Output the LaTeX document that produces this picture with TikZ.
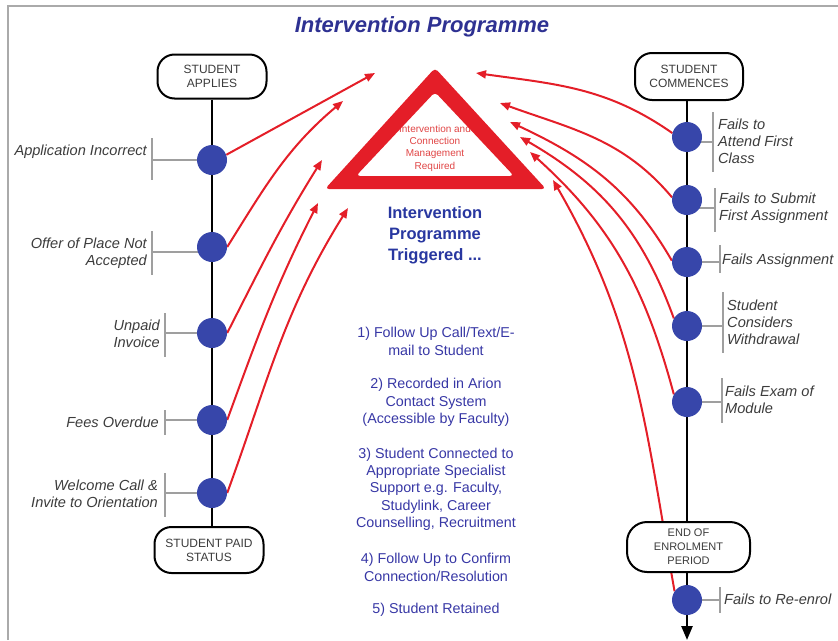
\documentclass[tikz,border=0pt]{standalone}
\usepackage{fontspec}
\setmainfont{Liberation Sans}
\usetikzlibrary{arrows.meta}
\definecolor{titleblue}{RGB}{46,49,146}
\definecolor{trigblue}{RGB}{40,55,160}
\definecolor{listblue}{RGB}{55,55,165}
\definecolor{dotblue}{RGB}{55,70,170}
\definecolor{warnred}{RGB}{228,30,40}
\definecolor{softred}{RGB}{225,70,70}
\definecolor{labelgray}{RGB}{60,60,60}
\definecolor{framegray}{RGB}{170,170,170}
\pgfdeclarelayer{bg}
\pgfsetlayers{bg,main}
\begin{document}
\begin{tikzpicture}[x=1pt,y=1pt,
  stage/.style={draw=black, line width=2pt, fill=white, rounded corners=17pt,
    minimum width=109pt, minimum height=44pt, align=center, inner sep=0pt,
    font=\fontsize{12}{14}\selectfont, text=labelgray},
  event/.style={circle, fill=dotblue, minimum size=30pt, inner sep=0pt},
  lbl/.style={font=\fontsize{14.6}{17}\selectfont\itshape, text=labelgray, inner sep=0pt},
  lleft/.style={lbl, anchor=east, align=right},
  lright/.style={lbl, anchor=west, align=left},
  spine/.style={line width=2.5pt, draw=black},
  bracket/.style={line width=1.3pt, draw=gray!75},
  flag/.style={draw=warnred, line width=2pt, -{Triangle[length=10pt,width=8pt]}},
  steplist/.style={font=\fontsize{14.3}{17.3}\selectfont, text=listblue, align=center, inner sep=0pt},
]
\useasboundingbox (0,0) rectangle (838,-640);

% page frame
\coordinate (fa) at (8,-640);
\coordinate (fb) at (8,-6);
\coordinate (fc) at (838,-6);
\begin{pgfonlayer}{bg}
  \draw[framegray, line width=2pt] (fa) -- (fb) -- (fc);
\end{pgfonlayer}

% title
\node[font=\fontsize{22}{26}\selectfont\bfseries\itshape, text=titleblue] (title) at (422,-27) {Intervention Programme};

% stage boxes
\node[stage] (apply) at (212,-76.5) {STUDENT\\APPLIES};
\node[stage, minimum height=46pt] (paid) at (209,-550) {STUDENT PAID\\STATUS};
\node[stage, minimum width=108pt, minimum height=47pt] (start) at (689,-76.5) {STUDENT\\COMMENCES};
\node[stage, minimum width=123pt, minimum height=50pt, rounded corners=20pt,
      font=\fontsize{11}{14}\selectfont] (endp) at (688.5,-547) {END OF\\ENROLMENT\\PERIOD};

% event dots, admissions side
\node[event] (l1) at (212,-160) {};
\node[event] (l2) at (212,-247) {};
\node[event] (l3) at (212,-333) {};
\node[event] (l4) at (212,-420) {};
\node[event] (l5) at (212,-493) {};
% event dots, study side
\node[event] (r1) at (687,-137) {};
\node[event] (r2) at (687,-200) {};
\node[event] (r3) at (687,-262) {};
\node[event] (r4) at (687,-326) {};
\node[event] (r5) at (687,-402) {};
\node[event] (r6) at (687,-600) {};

% event labels
\node[lleft] (la1) at (147,-152) {Application Incorrect};
\node[lleft] (la2) at (147,-253) {Offer of Place Not\\Accepted};
\node[lleft] (la3) at (160,-334) {Unpaid\\Invoice};
\node[lleft] (la4) at (159,-422) {Fees Overdue};
\node[lleft] (la5) at (158,-494) {Welcome Call \&\\Invite to Orientation};
\node[lright] (ra1) at (718,-141) {Fails to\\Attend First\\Class};
\node[lright] (ra2) at (719,-208) {Fails to Submit\\First Assignment};
\node[lright] (ra3) at (722,-261) {Fails Assignment};
\node[lright] (ra4) at (727,-322) {Student\\Considers\\Withdrawal};
\node[lright] (ra5) at (725,-400) {Fails Exam of\\Module};
\node[lright] (ra6) at (724,-599) {Fails to Re-enrol};

% bracket tops
\coordinate (ba1) at (152,-138);
\coordinate (ba2) at (152,-231);
\coordinate (ba3) at (165,-313);
\coordinate (ba4) at (165,-410);
\coordinate (ba5) at (165,-473);
\coordinate (bb1) at (713,-112);
\coordinate (bb2) at (715,-188);
\coordinate (bb3) at (720,-245);
\coordinate (bb4) at (723,-292);
\coordinate (bb5) at (722,-378);
\coordinate (bb6) at (720,-587);

% arrow targets around the warning sign
\coordinate (tl1) at (375,-73);
\coordinate (tl2) at (343,-101);
\coordinate (tl3) at (322,-160);
\coordinate (tl4) at (318,-203);
\coordinate (tl5) at (348,-208);
\coordinate (tr1) at (476,-73);
\coordinate (tr2) at (500,-103);
\coordinate (tr3) at (510,-122);
\coordinate (tr4) at (520,-137);
\coordinate (tr5) at (530,-152);
\coordinate (tr6) at (553,-180);
\coordinate (exit) at (687,-640);

\begin{pgfonlayer}{bg}
  % timelines
  \draw[spine] (apply.south) -- (apply.south |- paid.north);
  \draw[spine] (r1 |- start.south) -- (r1 |- endp.north);
  \draw[spine, -{Triangle[length=14pt,width=11pt]}] (r1 |- endp.south) -- (exit);
  % label brackets
  \draw[bracket] (l1) -- (l1 -| ba1) (ba1) -- ++(0,-42);
  \draw[bracket] (l2.center) ++(0,-5) -- (ba2 |- 0,-252) (ba2) -- ++(0,-44);
  \draw[bracket] (l3) -- (l3 -| ba3) (ba3) -- ++(0,-44);
  \draw[bracket] (l4) -- (l4 -| ba4) (ba4) -- ++(0,-25);
  \draw[bracket] (l5) -- (l5 -| ba5) (ba5) -- ++(0,-44);
  \draw[bracket] (r1.center) ++(0,-5) -- (bb1 |- 0,-142) (bb1) -- ++(0,-60);
  \draw[bracket] (r2.center) ++(0,-8) -- (bb2 |- 0,-208) (bb2) -- ++(0,-44);
  \draw[bracket] (r3) -- (r3 -| bb3) (bb3) -- ++(0,-28);
  \draw[bracket] (r4) -- (r4 -| bb4) (bb4) -- ++(0,-61);
  \draw[bracket] (r5) -- (r5 -| bb5) (bb5) -- ++(0,-45);
  \draw[bracket] (r6) -- (r6 -| bb6) (bb6) -- ++(0,-26);
  % triggers into the intervention programme
  \draw[flag] (l1.20) -- (tl1);
  \draw[flag] (l2.east) to[out=58,in=-140] (tl2);
  \draw[flag] (l3.east) to[out=63,in=-122] (tl3);
  \draw[flag] (l4.east) to[out=70,in=-117] (tl4);
  \draw[flag] (l5.east) to[out=70,in=-122] (tl5);
  \draw[flag] (r1.165) to[out=145,in=-8] (tr1);
  \draw[flag] (r2.170) to[out=130,in=-20] (tr2);
  \draw[flag] (r3.175) to[out=120,in=-25] (tr3);
  \draw[flag] (r4.150) to[out=110,in=-30] (tr4);
  \draw[flag] (r5.150) to[out=105,in=-42] (tr5);
  \draw[flag] (r6.145) to[out=100,in=-60] (tr6);
\end{pgfonlayer}

% warning sign
\fill[white] (435,-92) -- (356,-176) -- (514,-176) -- cycle;
\node[font=\fontsize{10}{12.3}\selectfont, text=softred, align=center, inner sep=0pt] (alert) at (435,-148)
  {Intervention and\\Connection\\Management\\Required};
\fill[warnred, even odd rule, rounded corners=4pt]
  (435,-68) -- (325,-189) -- (546,-189) -- cycle
  (435,-92) -- (356,-176) -- (514,-176) -- cycle;

% programme steps
\node[font=\fontsize{16.5}{21}\selectfont\bfseries, text=trigblue, align=center] (trig) at (435,-235)
  {Intervention\\Programme\\Triggered ...};
\node[steplist] (s1) at (436,-341.5) {1) Follow Up Call/Text/E-\\mail to Student};
\node[steplist] (s2) at (436,-402.5) {2) Recorded in Arion\\Contact System\\(Accessible by Faculty)};
\node[steplist] (s3) at (436,-489) {3) Student Connected to\\Appropriate Specialist\\Support e.g. Faculty,\\Studylink, Career\\Counselling, Recruitment};
\node[steplist] (s4) at (436,-567.5) {4) Follow Up to Confirm\\Connection/Resolution};
\node[steplist] (s5) at (436,-610) {5) Student Retained};
\end{tikzpicture}
\end{document}
